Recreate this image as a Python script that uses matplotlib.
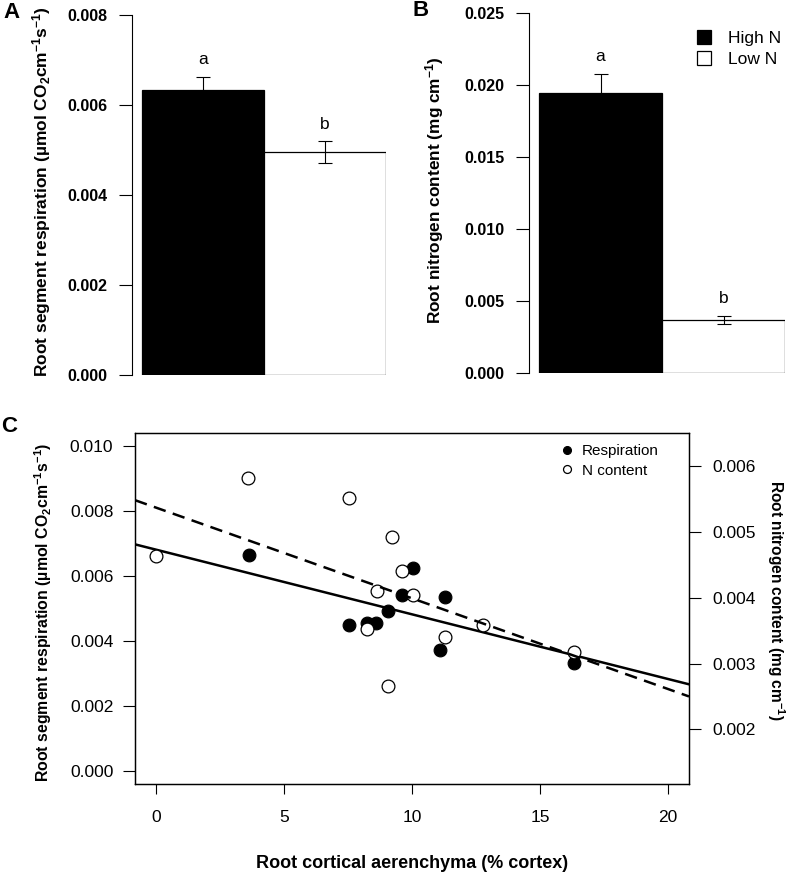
import numpy as np
import matplotlib
matplotlib.use("Agg")
import matplotlib.pyplot as plt
from matplotlib.lines import Line2D

plt.rcParams['font.family'] = ['Liberation Sans', 'DejaVu Sans']
plt.rcParams['mathtext.fontset'] = 'custom'
plt.rcParams['mathtext.rm'] = 'Liberation Sans'
plt.rcParams['mathtext.bf'] = 'Liberation Sans:bold'
plt.rcParams['mathtext.it'] = 'Liberation Sans:italic'

# ---------------- data ----------------
treatments = ["High N", "Low N"]
bar_colors = ["black", "white"]

resp_means = [0.00634, 0.00495]
resp_se = [0.00028, 0.00024]
resp_letters = ["a", "b"]
resp_ticks = [0.000, 0.002, 0.004, 0.006, 0.008]
resp_ticklabels = ["0.000", "0.002", "0.004", "0.006", "0.008"]

nit_means = [0.01949, 0.0037]
nit_se = [0.0013, 0.00026]
nit_letters = ["a", "b"]
nit_ticks = [0.000, 0.005, 0.010, 0.015, 0.020, 0.025]
nit_ticklabels = ["0.000", "0.005", "0.010", "0.015", "0.020", "0.025"]

cortex_resp = [3.62, 10.03, 9.60, 11.30, 9.08, 7.55, 8.25, 8.60, 11.08, 16.33]
respiration = [0.00664, 0.00625, 0.00541, 0.00534, 0.00493, 0.00449,
               0.00456, 0.00456, 0.00371, 0.00331]

cortex_n = [0.0, 3.61, 7.55, 9.22, 9.60, 8.65, 10.04, 8.25, 9.08, 11.29, 12.77, 16.33]
n_content = [0.004635, 0.005822, 0.005513, 0.004919, 0.004411, 0.004107,
             0.004046, 0.003518, 0.00266, 0.003401, 0.003579, 0.003173]

resp_fit = (0.006811, -0.000199)      # intercept, slope
n_fit = (0.005369, -0.0001378)        # intercept, slope

c_xticks = [0, 5, 10, 15, 20]
c_xticklabels = ["0", "5", "10", "15", "20"]
c_left_ticks = [0.000, 0.002, 0.004, 0.006, 0.008, 0.010]
c_left_ticklabels = ["0.000", "0.002", "0.004", "0.006", "0.008", "0.010"]
c_right_ticks = [0.002, 0.003, 0.004, 0.005, 0.006]
c_right_ticklabels = ["0.002", "0.003", "0.004", "0.005", "0.006"]

# ---------------- figure ----------------
W, H = 787, 875
fig = plt.figure(figsize=(W / 100, H / 100), dpi=100)


def ax_px(left, top, right, bottom):
    return fig.add_axes([left / W, 1 - bottom / H, (right - left) / W, (bottom - top) / H])


def bar_panel(ax, means, se, letters, ticks, ticklabels, ymax):
    x = np.arange(len(means)) + 0.5
    ax.bar(x, means, width=1.0, color=bar_colors, edgecolor="black", linewidth=0.9, zorder=2)
    ax.errorbar(x, means, yerr=se, fmt="none", ecolor="black", elinewidth=0.8,
                capsize=4.7, capthick=0.8, zorder=3)
    for xi, m, s, l in zip(x, means, se, letters):
        ax.annotate(l, (xi, m + s), xytext=(0, 12.5), textcoords="offset points",
                    ha="center", va="center", fontsize=12.5)
    ax.set_ylim(0, ymax)
    for sp in ["top", "right", "bottom"]:
        ax.spines[sp].set_visible(False)
    ax.spines["left"].set_bounds(0, ymax)
    ax.spines["left"].set_linewidth(0.8)
    ax.set_xticks([])
    ax.set_yticks(ticks, ticklabels, fontweight="bold", fontsize=11.5)
    ax.tick_params(axis="y", length=9.4, width=0.8, pad=8)


# Panel A
axA = ax_px(132, 15, 386, 375)
axA.set_xlim(-10 / 122, 2.0)
bar_panel(axA, resp_means, resp_se, resp_letters, resp_ticks, resp_ticklabels, 0.008)

# Panel B
axB = ax_px(529, 13.3, 785, 373.3)
axB.set_xlim(-10 / 123, 2.0)
bar_panel(axB, nit_means, nit_se, nit_letters, nit_ticks, nit_ticklabels, 0.025)

handles = [Line2D([], [], marker="s", ls="", mfc=c, mec="black", mew=0.9, ms=9.5)
           for c in bar_colors]
axB.legend(handles, treatments, frameon=False, fontsize=12.5, loc="upper left",
           bbox_to_anchor=(695.3 / W, 1 - 31 / H), bbox_transform=fig.transFigure,
           borderpad=0, borderaxespad=0, handlelength=1.0, handletextpad=0.88,
           labelspacing=0.35)

resp_label = r"Root segment respiration (µmol CO$_{\mathbf{2}}$cm$^{\mathbf{-1}}$s$^{\mathbf{-1}}$)"
nit_label = r"Root nitrogen content (mg cm$^{\mathbf{-1}}$)"

fig.text(42 / W, 1 - 192 / H, resp_label, rotation=90, ha="center", va="center",
         fontweight="bold", fontsize=12.5)
fig.text(435 / W, 1 - 190 / H, nit_label, rotation=90, ha="center", va="center",
         fontweight="bold", fontsize=12.4)

# Panel C
axC = ax_px(135, 433, 689, 784)
axC.set_xlim(-0.82, 20.82)
axC.set_ylim(-0.0004, 0.0104)
h1, = axC.plot(cortex_resp, respiration, ls="", marker="o", ms=9.2, mfc="black",
               mec="black", mew=0.8, label="Respiration", zorder=2)
xl = np.array(axC.get_xlim())
axC.plot(xl, resp_fit[0] + resp_fit[1] * xl, color="black", lw=1.8, zorder=3)
axC.set_xticks(c_xticks, c_xticklabels, fontsize=12.5)
axC.set_yticks(c_left_ticks, c_left_ticklabels, fontsize=12.5)
axC.tick_params(axis="x", length=7, width=0.8, pad=12)
axC.tick_params(axis="y", length=8.6, width=0.8, pad=7)
for sp in axC.spines.values():
    sp.set_linewidth(0.9)

axC2 = axC.twinx()
axC2.set_ylim(0.00117, 0.0065025)
h2, = axC2.plot(cortex_n, n_content, ls="", marker="o", ms=9.2, mfc="white",
                mec="black", mew=0.9, label="N content", zorder=2)
axC2.plot(xl, n_fit[0] + n_fit[1] * xl, color="black", lw=1.8, ls=(0, (5, 3)), zorder=3)
axC2.set_yticks(c_right_ticks, c_right_ticklabels, fontsize=12.5)
axC2.tick_params(axis="y", length=8.6, width=0.8, pad=8)
for sp in axC2.spines.values():
    sp.set_linewidth(0.9)
axC2.set_xlim(xl)

axC2.legend([h1, h2], ["Respiration", "N content"], frameon=False, fontsize=11,
            loc="upper left", bbox_to_anchor=(562.1 / W, 1 - 444 / H),
            bbox_transform=fig.transFigure, borderpad=0, borderaxespad=0,
            handlelength=0.6, handletextpad=0.7, labelspacing=0.38, markerscale=0.62)

fig.text(43 / W, 1 - 612 / H, resp_label, rotation=90, ha="center", va="center",
         fontweight="bold", fontsize=11.4)
fig.text(776 / W, 1 - 600 / H, nit_label, rotation=270, ha="center", va="center",
         fontweight="bold", fontsize=11.2)
fig.text(412 / W, 1 - 864 / H, "Root cortical aerenchyma (% cortex)", ha="center",
         va="center", fontweight="bold", fontsize=13)

# Panel letters
fig.text(3 / W, 1 - 12 / H, "A", fontweight="bold", fontsize=16, ha="left", va="center")
fig.text(412 / W, 1 - 11 / H, "B", fontweight="bold", fontsize=16, ha="left", va="center")
fig.text(1 / W, 1 - 427 / H, "C", fontweight="bold", fontsize=16, ha="left", va="center")

fig.savefig("out.png", dpi=100)
